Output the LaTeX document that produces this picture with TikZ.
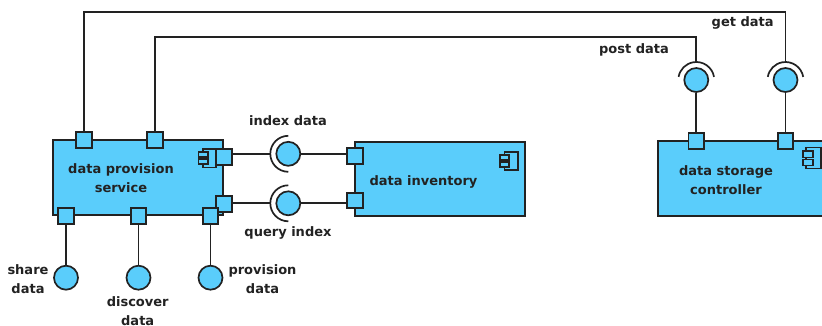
\documentclass[tikz,border=0pt]{standalone}
\usepackage{fontspec}
\setmainfont{DejaVu Sans}
\definecolor{compblue}{HTML}{5ACDFB}
\definecolor{ink}{HTML}{222222}
\tikzset{
  comp/.style={draw=ink, fill=compblue, line width=2pt, rectangle, inner sep=0pt},
  port/.style={draw=ink, fill=compblue, line width=1.7pt, rectangle, minimum size=15.5pt, inner sep=0pt},
  lolli/.style={draw=ink, fill=compblue, line width=1.7pt, circle, minimum size=24pt, inner sep=0pt},
  wire/.style={draw=ink, line width=1.7pt},
  sock/.style={draw=ink, line width=1.7pt},
  icon/.style={draw=ink, fill=compblue, line width=1.4pt},
  lbl/.style={font=\bfseries\fontsize{13}{19}\selectfont, text=ink, align=center, inner sep=0pt},
}
\begin{document}
\begin{tikzpicture}[x=1pt,y=-1pt]
\useasboundingbox (0,0) rectangle (822,325);
\clip (0,0) rectangle (822,325);
\fill[white] (0,0) rectangle (822,325);

% components
\node[comp, minimum width=170pt, minimum height=75pt] (dps) at (137.5,177.5) {};
\node[comp, minimum width=170pt, minimum height=74pt] (di) at (440,179) {};
\node[comp, minimum width=172pt, minimum height=75pt] (dsc) at (744,178.5) {};

% component icons
\draw[icon] (203,149) rectangle (216,167.5);
\draw[icon] (198.5,152) rectangle (208,157);
\draw[icon] (198.5,159) rectangle (208,164);
\draw[icon] (504.5,152) rectangle (518,170);
\draw[icon] (500,155) rectangle (509,160);
\draw[icon] (500,162) rectangle (509,167);
\draw[icon] (806,147.5) rectangle (821,168.5);
\draw[icon] (803,151) rectangle (813,157.5);
\draw[icon] (803,159.5) rectangle (813,165.5);

% component texts
\node[lbl] (dpsT) at (121,178) {data provision\\service};
\node[lbl] (diT) at (423.5,182) {data inventory};
\node[lbl] (dscT) at (726,180.5) {data storage\\controller};

% ports
\node[port] (dpsT1) at (84,140) {};
\node[port] (dpsT2) at (155,140) {};
\node[port] (dpsR1) at (224,157) {};
\node[port] (dpsR2) at (224,204) {};
\node[port] (dpsB1) at (66,216) {};
\node[port] (dpsB2) at (138.5,216) {};
\node[port] (dpsB3) at (210.5,216) {};
\node[port] (diL1) at (355,156) {};
\node[port] (diL2) at (355,200.5) {};
\node[port] (dscT1) at (696.3,141) {};
\node[port] (dscT2) at (785.5,141) {};

% lollipops
\node[lolli] (idx) at (288.3,153.8) {};
\node[lolli] (qry) at (288.3,203.3) {};
\node[lolli] (post) at (696.3,80) {};
\node[lolli] (get) at (785.5,80) {};
\node[lolli] (share) at (66,277.7) {};
\node[lolli] (disc) at (138.5,277.7) {};
\node[lolli] (prov) at (210.5,277.7) {};

% sockets
\draw[sock] ([yshift=18pt]idx.center) arc[start angle=90, end angle=270, radius=18pt];
\draw[sock] ([yshift=18pt]qry.center) arc[start angle=90, end angle=270, radius=18pt];
\draw[sock] ([shift={(10:18pt)}]post.center) arc[start angle=10, end angle=170, radius=18pt];
\draw[sock] ([shift={(10:18pt)}]get.center) arc[start angle=10, end angle=170, radius=18pt];

% wires
\draw[wire] (dpsR1.east |- idx.center) -- ([xshift=-18pt]idx.center);
\draw[wire] (idx.east) -- (diL1.west |- idx.east);
\draw[wire] (dpsR2.east |- qry.center) -- ([xshift=-18pt]qry.center);
\draw[wire] (qry.east) -- (diL2.west |- qry.east);
\draw[wire] (dpsB1.south) -- (share.north);
\draw[wire] (dpsB2.south) -- (disc.north);
\draw[wire] (dpsB3.south) -- (prov.north);
\draw[wire] (dscT1.north) -- (post.south);
\draw[wire] (dscT2.north) -- (get.south);
\coordinate (getturn) at (785.5,12);
\coordinate (postturn) at (696.3,37);
\draw[wire] (dpsT1.north) |- (getturn) -- ([yshift=18pt]get.center);
\draw[wire] (dpsT2.north) |- (postturn) -- ([yshift=18pt]post.center);

% labels
\node[lbl] (lidx) at (288,120.5) {index data};
\node[lbl] (lqry) at (288,233) {query index};
\node[lbl] (lget) at (742.7,22.5) {get data};
\node[lbl] (lpost) at (634,50) {post data};
\node[lbl] (lshare) at (28,279) {share\\data};
\node[lbl] (ldisc) at (137.7,311) {discover\\data};
\node[lbl] (lprov) at (262.5,279) {provision\\data};
\end{tikzpicture}
\end{document}
